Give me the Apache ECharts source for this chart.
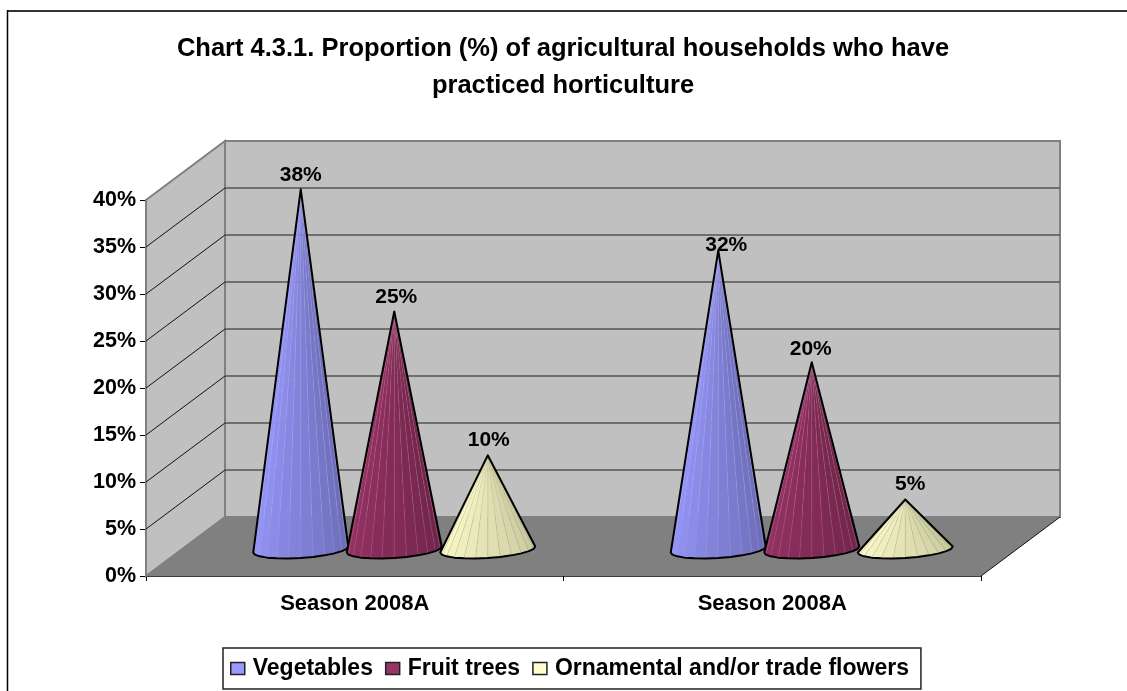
<!DOCTYPE html>
<html><head><meta charset="utf-8">
<style>html,body{margin:0;padding:0;background:#fff}#c{width:1127px;height:691px}</style>
<script src="https://cdn.jsdelivr.net/npm/echarts@6/dist/echarts.min.js"></script></head>
<body><div id="c"></div>
<script>
const titleText = 'Chart 4.3.1. Proportion (%) of agricultural households who have\npracticed horticulture';
const categories = ['Season 2008A', 'Season 2008A'];
const vegetables = [38, 31.5];
const fruitTrees = [25, 19.6];
const flowers = [9.7, 5];
const yTicks = [5, 10, 15, 20, 25, 30, 35, 40];

const FONT = '"Liberation Sans", Arial, sans-serif';
const DEPTH_X = 79, DEPTH_Y = 59;
const SERIES_OFF = [-93.5, 0, 93.5];
const HALF_W = 47.5;
const PALETTES = [
  {light:[153,153,255], dark:[104,104,176], line:'rgba(190,190,255,0.3)'},
  {light:[153,51,102], dark:[108,36,72], line:'rgba(200,120,160,0.35)'},
  {light:[255,255,204], dark:[195,195,155], line:'rgba(140,140,110,0.22)'}
];
const LABEL_SHIFT = [
  [[0,-14],[8,-5]],
  [[2,-14],[-1,-13]],
  [[1,-15],[5,-15]]
];

function mix(a,b,t){return 'rgb('+a.map((v,i)=>Math.round(v+(b[i]-v)*t)).join(',')+')';}

function renderCone(sIdx){
  return function(params, api){
    const cat = api.value(0), val = api.value(1);
    const front0 = api.coord([cat,0]);
    const frontV = api.coord([cat,val]);
    const cx = front0[0] + DEPTH_X/2 + SERIES_OFF[sIdx];
    const cy = front0[1] - DEPTH_Y/2 + 3;
    const apex = [cx, frontV[1] - DEPTH_Y/2];
    const N = 12, pts = [];
    for(let i=0;i<=N;i++){
      const t = Math.PI*i/N;
      pts.push([cx + HALF_W*Math.cos(t), cy - 3*Math.cos(t) + 8.5*Math.sin(t)]);
    }
    const pal = PALETTES[sIdx], children = [];
    for(let i=0;i<N;i++){
      const f = 1-(i+0.5)/N;
      children.push({type:'polygon',shape:{points:[apex,pts[i],pts[i+1]]},
        style:{fill:mix(pal.light,pal.dark,f),stroke:pal.line,lineWidth:0.5}});
    }
    children.push({type:'polygon',shape:{points:[apex].concat(pts)},
      style:{fill:'none',stroke:'#000',lineWidth:2,lineJoin:'round'}});
    const shift = LABEL_SHIFT[sIdx][cat];
    children.push({type:'text',style:{text:Math.round(val)+'%',x:apex[0]+shift[0],y:apex[1]+shift[1],
      textAlign:'center',textVerticalAlign:'middle',font:'bold 21px '+FONT,fill:'#000'}});
    return {type:'group',children};
  };
}

function renderShell(params, api){
  const o = api.coord([0,0]), t = api.coord([0,40]);
  const xL = params.coordSys.x, xR = xL + params.coordSys.width;
  const y0 = o[1], yT = t[1];
  const ch = [];
  ch.push({type:'polygon',shape:{points:[[xL+DEPTH_X,yT-DEPTH_Y],[xR+DEPTH_X,yT-DEPTH_Y],[xR+DEPTH_X,y0-DEPTH_Y],[xL+DEPTH_X,y0-DEPTH_Y]]},
    style:{fill:'#c0c0c0',stroke:'#808080',lineWidth:2}});
  ch.push({type:'polygon',shape:{points:[[xL,yT],[xL+DEPTH_X,yT-DEPTH_Y],[xL+DEPTH_X,y0-DEPTH_Y],[xL,y0]]},
    style:{fill:'#c0c0c0',stroke:'#808080',lineWidth:2}});
  yTicks.forEach(v=>{
    const y = api.coord([0,v])[1];
    if(v<40){
      ch.push({type:'line',shape:{x1:xL+DEPTH_X,y1:y-DEPTH_Y,x2:xR+DEPTH_X,y2:y-DEPTH_Y},style:{stroke:'#555',lineWidth:1.6}});
      ch.push({type:'line',shape:{x1:xL,y1:y,x2:xL+DEPTH_X,y2:y-DEPTH_Y},style:{stroke:'#111',lineWidth:1}});
    }
  });
  ch.push({type:'polygon',shape:{points:[[xL,y0],[xL+DEPTH_X,y0-DEPTH_Y],[xR+DEPTH_X,y0-DEPTH_Y],[xR,y0]]},
    style:{fill:'#808080'}});
  ch.push({type:'line',shape:{x1:xR,y1:y0,x2:xR+DEPTH_X,y2:y0-DEPTH_Y},style:{stroke:'#111',lineWidth:1}});
  return {type:'group',children:ch};
}

function coneSeries(name, values, idx){
  return {name, type:'custom', renderItem:renderCone(idx), clip:false, z:5+idx,
    coordinateSystem:'cartesian2d',
    itemStyle:{color:'rgb('+PALETTES[idx].light.join(',')+')'},
    encode:{x:0,y:1},
    data:values.map((v,i)=>[i,v])};
}

const chart = echarts.init(document.getElementById('c'),null,{renderer:'canvas'});
chart.setOption({
  animation:false,
  backgroundColor:'#fff',
  title:{text:titleText,left:563,top:30,textAlign:'center',padding:0,
    textStyle:{fontFamily:FONT,fontWeight:'bold',fontSize:25.5,lineHeight:37,color:'#000'}},
  grid:{left:146,right:146,top:200,bottom:115,containLabel:false},
  graphic:[
    {type:'line',silent:true,shape:{x1:7,y1:11,x2:1127,y2:11},style:{stroke:'#333',lineWidth:2}},
    {type:'line',silent:true,shape:{x1:7.5,y1:10,x2:7.5,y2:691},style:{stroke:'#000',lineWidth:1.5}}
  ],
  legend:{left:223,top:648,orient:'horizontal',padding:[9,12,9,7],borderColor:'#222',borderWidth:1.5,
    itemWidth:14,itemHeight:12,itemGap:12,icon:'rect',
    itemStyle:{borderColor:'#222',borderWidth:1.5},
    selectedMode:false,
    textStyle:{fontFamily:FONT,fontWeight:'bold',fontSize:23,color:'#000',padding:[0,0,0,3]},
    data:['Vegetables','Fruit trees','Ornamental and/or trade flowers']},
  xAxis:{type:'category',data:categories,boundaryGap:true,
    axisLine:{lineStyle:{color:'#000',width:1.5}},
    axisTick:{show:true,alignWithLabel:false,length:5,lineStyle:{color:'#000'}},
    axisLabel:{fontFamily:FONT,fontWeight:'bold',fontSize:22,color:'#000',margin:17},splitLine:{show:false}},
  yAxis:{type:'value',min:0,max:40,interval:5,
    axisLine:{show:true,lineStyle:{color:'#000',width:1.5}},
    axisTick:{show:true,length:6,lineStyle:{color:'#000'}},
    axisLabel:{formatter:'{value}%',fontFamily:FONT,fontWeight:'bold',fontSize:21.5,color:'#000',margin:10},
    splitLine:{show:false}},
  series:[
    {type:'custom',renderItem:renderShell,clip:false,z:1,silent:true,tooltip:{show:false},data:[[0,0]],encode:{x:0,y:1}},
    coneSeries('Vegetables',vegetables,0),
    coneSeries('Fruit trees',fruitTrees,1),
    coneSeries('Ornamental and/or trade flowers',flowers,2)
  ]
});
</script></body></html>
